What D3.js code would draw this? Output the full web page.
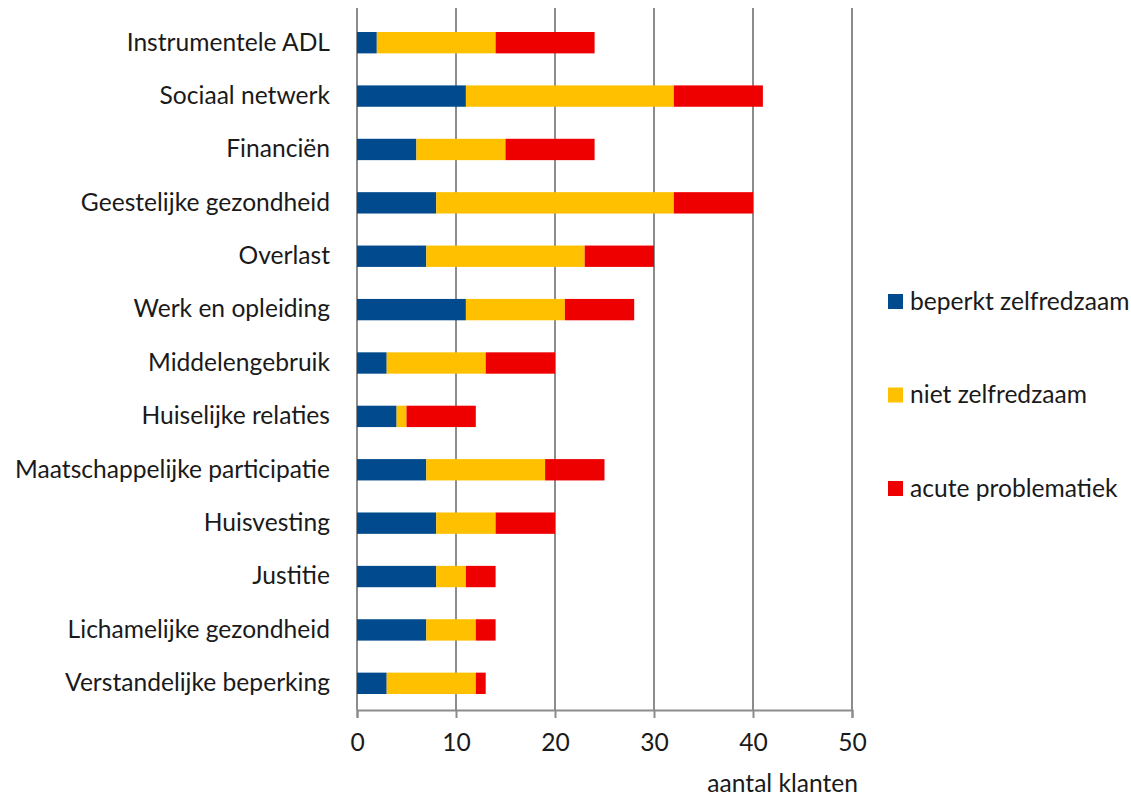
<!DOCTYPE html>
<html>
<head>
<meta charset="utf-8">
<script src="https://cdn.jsdelivr.net/npm/d3@7"></script>
<style>
  body { margin: 0; background: #fff; }
  svg text { font-family: Lato, "Open Sans", sans-serif; fill: #1a1a1a; }
</style>
</head>
<body>
<svg class="chart" width="1131" height="797"></svg>
<script>
const categories = [
  "Instrumentele ADL", "Sociaal netwerk", "Financiën", "Geestelijke gezondheid",
  "Overlast", "Werk en opleiding", "Middelengebruik", "Huiselijke relaties",
  "Maatschappelijke participatie", "Huisvesting", "Justitie",
  "Lichamelijke gezondheid", "Verstandelijke beperking"
];
const beperkt = [2, 11, 6, 8, 7, 11, 3, 4, 7, 8, 8, 7, 3];
const niet = [12, 21, 9, 24, 16, 10, 10, 1, 12, 6, 3, 5, 9];
const acuut = [10, 9, 9, 8, 7, 7, 7, 7, 6, 6, 3, 2, 1];
const seriesNames = ["beperkt zelfredzaam", "niet zelfredzaam", "acute problematiek"];
const seriesColors = ["#004a8d", "#ffc000", "#ee0000"];
const xTicks = [0, 10, 20, 30, 40, 50];

const svg = d3.select("svg.chart");
const plotLeft = 357, plotRight = 852, plotTop = 16, plotBottom = 710;
const fontSize = 24.6;

const rows = categories.map((c, i) => ({ cat: c, v: [beperkt[i], niet[i], acuut[i]] }));
const stacked = d3.stack().keys([0, 1, 2]).value((d, k) => d.v[k])(rows);

const x = d3.scaleLinear().domain([0, 50]).range([plotLeft, plotRight]);
const y = d3.scaleBand().domain(categories).range([plotTop, plotBottom]).paddingInner(0.6).paddingOuter(0.3);

// gridlines
svg.append("g")
  .selectAll("line")
  .data(xTicks)
  .enter()
  .append("line")
  .attr("x1", (d) => x(d))
  .attr("x2", (d) => x(d))
  .attr("y1", 8)
  .attr("y2", plotBottom)
  .attr("stroke", "#8c8c8c")
  .attr("stroke-width", 2);

// bars
svg.append("g")
  .selectAll("g")
  .data(stacked)
  .enter()
  .append("g")
  .attr("fill", (d, i) => seriesColors[i])
  .selectAll("rect")
  .data((d) => d)
  .enter()
  .append("rect")
  .attr("x", (d) => x(d[0]))
  .attr("width", (d) => x(d[1]) - x(d[0]))
  .attr("y", (d) => y(d.data.cat))
  .attr("height", y.bandwidth());

// x axis
const xAxis = svg.append("g")
  .attr("transform", `translate(0,${plotBottom})`)
  .call(d3.axisBottom(x).tickValues(xTicks).tickSize(8).tickPadding(16));
xAxis.select(".domain").attr("stroke", "#8c8c8c").attr("stroke-width", 2);
xAxis.selectAll(".tick line").attr("stroke", "#8c8c8c").attr("stroke-width", 2);
xAxis.selectAll(".tick text").attr("font-size", fontSize).attr("fill", "#1a1a1a")
  .attr("font-family", "Lato, 'Open Sans', sans-serif");

// y axis
const yAxis = svg.append("g")
  .attr("transform", `translate(${plotLeft},0)`)
  .call(d3.axisLeft(y).tickSize(0).tickPadding(27));
yAxis.select(".domain").remove();
yAxis.selectAll(".tick text").attr("font-size", fontSize).attr("fill", "#1a1a1a")
  .attr("font-family", "Lato, 'Open Sans', sans-serif");

svg.append("text")
  .attr("x", 858)
  .attr("y", 792)
  .attr("text-anchor", "end")
  .attr("font-size", fontSize)
  .text("aantal klanten");

// legend
const legendY = d3.scalePoint().domain(seriesNames).range([301, 488]);
const legend = svg.append("g")
  .selectAll("g")
  .data(seriesNames)
  .enter()
  .append("g")
  .attr("transform", (d) => `translate(888, ${legendY(d)})`);

legend.append("rect")
  .attr("x", 0)
  .attr("y", -7)
  .attr("width", 15)
  .attr("height", 15)
  .attr("fill", (d, i) => seriesColors[i]);

legend.append("text")
  .attr("x", 22)
  .attr("y", 0)
  .attr("dy", "0.35em")
  .attr("font-size", fontSize)
  .text((d) => d);
</script>
</body>
</html>
